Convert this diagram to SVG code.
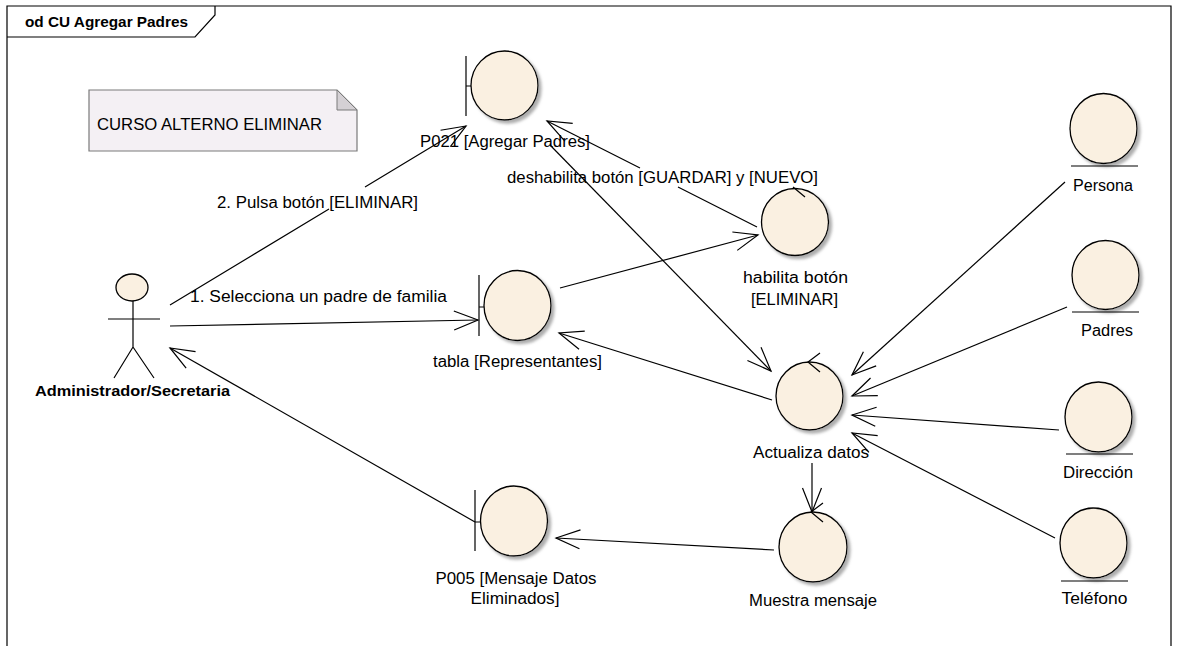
<svg xmlns="http://www.w3.org/2000/svg" width="1181" height="646" viewBox="0 0 1181 646">
<style>
text{font-family:"Liberation Sans",Arial,sans-serif;font-size:16px;fill:#000}
.b{font-weight:bold;font-size:15.5px}
.m{text-anchor:middle}
.sh{fill:#FAF0E1;stroke:#000;stroke-width:1.3;filter:url(#shadow)}
.ln{fill:none;stroke:#000;stroke-width:1.2}
.conn{fill:none;stroke:#000;stroke-width:1.2;marker-end:url(#arr)}
</style>
<defs>
<marker id="arr" markerUnits="userSpaceOnUse" markerWidth="30" markerHeight="30" refX="0" refY="0" orient="auto" overflow="visible">
<path d="M-24,-9.5 L0,0 L-24,9.5" fill="none" stroke="#000" stroke-width="1.2"/>
</marker>
<filter id="shadow" x="-20%" y="-20%" width="150%" height="150%">
<feDropShadow dx="3" dy="3" stdDeviation="1.5" flood-color="#999" flood-opacity="0.8"/>
</filter>
</defs>
<rect width="1181" height="646" fill="#fff"/>
<g id="frame">
<path class="ln" d="M7,650 L7,6 L1171,6 L1171,650" stroke-width="1.4"/>
<path class="ln" d="M7,37 L195,37 L215,15 L215,6"/>
<text class="b" x="25" y="27" textLength="163" lengthAdjust="spacingAndGlyphs">od CU Agregar Padres</text>
</g>
<g id="note">
<path d="M89,90 L337,90 L357,110 L357,151 L89,151 Z" fill="#F4F0F4" stroke="#7a7a7a" stroke-width="1.2"/>
<path d="M337,90 L337,110 L357,110 Z" fill="#D4D0D4" stroke="#7a7a7a" stroke-width="1"/>
<text x="97" y="130" textLength="225" lengthAdjust="spacingAndGlyphs">CURSO ALTERNO ELIMINAR</text>
</g>
<g id="connectors">
<path class="conn" d="M170,326 L478,320"/>
<text class="m" x="318.5" y="302" textLength="257" lengthAdjust="spacingAndGlyphs">1. Selecciona un padre de familia</text>
<path class="conn" d="M170,305 L329,209 M365,187 L466,126"/>
<text class="m" x="317.5" y="208" textLength="201" lengthAdjust="spacingAndGlyphs">2. Pulsa botón [ELIMINAR]</text>
<path class="conn" d="M560,288 L758,235"/>
<path class="conn" d="M757,227 L678,187 M640,168 L547,121"/>
<text class="m" x="662.5" y="183" textLength="311" lengthAdjust="spacingAndGlyphs">deshabilita botón [GUARDAR] y [NUEVO]</text>
<path class="conn" d="M550,145 L771,371"/>
<path class="conn" d="M772,400 L559,333"/>
<path class="conn" d="M1065,182 L852,375"/>
<path class="conn" d="M1067,307 L852,396"/>
<path class="conn" d="M1059,430 L852,415"/>
<path class="conn" d="M1055,538 L852,433"/>
<path class="conn" d="M812,463 L812,512"/>
<path class="conn" d="M774,550 L556,538"/>
<path class="conn" d="M475,522 L170,348"/>
</g>
<g id="actor">
<ellipse cx="132" cy="287.5" rx="16" ry="13.5" fill="#FAF0E1" stroke="#000" stroke-width="1.3"/>
<path class="ln" d="M133,301 L133,347 M108,319 L160,319 M114,378 L133,347 L154,378" stroke-width="1.3"/>
<text class="b m" x="132.5" y="396" textLength="195" lengthAdjust="spacingAndGlyphs">Administrador/Secretaria</text>
</g>
<g id="p021">
<ellipse class="sh" cx="504.5" cy="85.5" rx="33.5" ry="34.5"/>
<path class="ln" d="M466,56 L466,116 M466,86 L471,86" stroke-width="1.3"/>
<text class="m" x="505" y="147" textLength="170" lengthAdjust="spacingAndGlyphs">P021 [Agregar Padres]</text>
</g>
<g id="tabla">
<ellipse class="sh" cx="517.5" cy="305.5" rx="33.5" ry="35"/>
<path class="ln" d="M479,275 L479,336 M479,307 L484,307" stroke-width="1.3"/>
<text class="m" x="517.5" y="367" textLength="169" lengthAdjust="spacingAndGlyphs">tabla [Representantes]</text>
</g>
<g id="p005">
<ellipse class="sh" cx="514" cy="521" rx="33.5" ry="35"/>
<path class="ln" d="M475,490 L475,551 M475,522 L480.5,522" stroke-width="1.3"/>
<text class="m" x="516" y="584" textLength="161" lengthAdjust="spacingAndGlyphs">P005 [Mensaje Datos</text>
<text class="m" x="515" y="604" textLength="89" lengthAdjust="spacingAndGlyphs">Eliminados]</text>
</g>
<g id="habilita">
<ellipse class="sh" cx="795" cy="222" rx="33.5" ry="33.5"/>
<path class="ln" d="M793,187 L805,197" stroke-width="1.3"/>
<text class="m" x="795.5" y="283" textLength="105" lengthAdjust="spacingAndGlyphs">habilita botón</text>
<text class="m" x="794.5" y="305" textLength="87" lengthAdjust="spacingAndGlyphs">[ELIMINAR]</text>
</g>
<g id="actualiza">
<ellipse class="sh" cx="809.5" cy="396" rx="33.5" ry="34"/>
<path class="ln" d="M820,353 L808,362 L820,372" stroke-width="1.3"/>
<text class="m" x="811" y="458" textLength="116" lengthAdjust="spacingAndGlyphs">Actualiza datos</text>
</g>
<g id="muestra">
<ellipse class="sh" cx="813" cy="547" rx="34" ry="35"/>
<path class="ln" d="M823,503 L811,512 L823,522" stroke-width="1.3"/>
<text class="m" x="813" y="606" textLength="128" lengthAdjust="spacingAndGlyphs">Muestra mensaje</text>
</g>
<g id="persona">
<ellipse class="sh" cx="1103.5" cy="128.5" rx="33.5" ry="35"/>
<path class="ln" d="M1071,166 L1138,166" stroke-width="1.3"/>
<text class="m" x="1103" y="191" textLength="60" lengthAdjust="spacingAndGlyphs">Persona</text>
</g>
<g id="padres">
<ellipse class="sh" cx="1105.5" cy="275" rx="33.5" ry="34.5"/>
<path class="ln" d="M1072,312 L1139,312" stroke-width="1.3"/>
<text class="m" x="1107" y="336" textLength="52" lengthAdjust="spacingAndGlyphs">Padres</text>
</g>
<g id="direccion">
<ellipse class="sh" cx="1098.5" cy="417" rx="33.5" ry="35"/>
<path class="ln" d="M1066,454 L1133,454" stroke-width="1.3"/>
<text class="m" x="1098" y="478" textLength="70" lengthAdjust="spacingAndGlyphs">Dirección</text>
</g>
<g id="telefono">
<ellipse class="sh" cx="1093.5" cy="543" rx="33.5" ry="35"/>
<path class="ln" d="M1061,581 L1128,581" stroke-width="1.3"/>
<text class="m" x="1094.5" y="604" textLength="66" lengthAdjust="spacingAndGlyphs">Teléfono</text>
</g>
</svg>
